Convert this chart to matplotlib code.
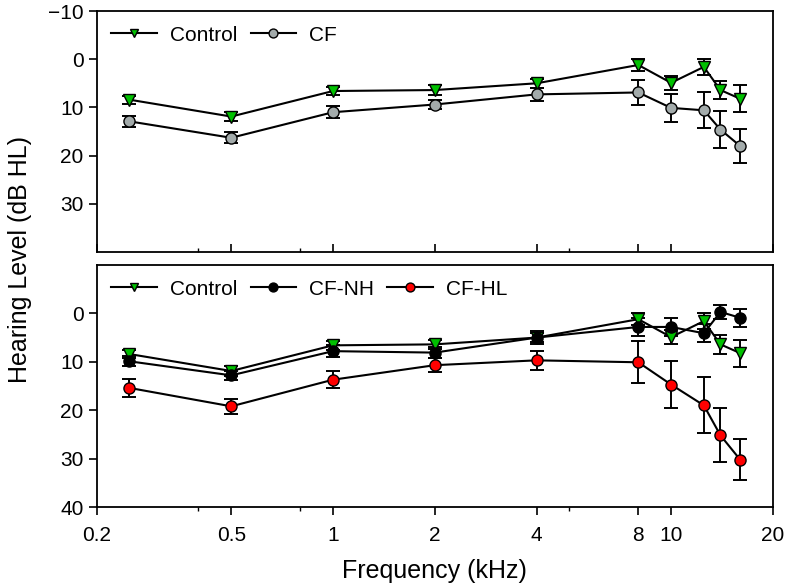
import numpy as np
import matplotlib.pyplot as plt
from matplotlib.ticker import FixedLocator, NullFormatter

plt.rcParams['font.family'] = ['Liberation Sans', 'DejaVu Sans']

# frequencies (kHz)
freqs = [0.25, 0.5, 1, 2, 4, 8, 10, 12.5, 14, 16]

# hearing levels (dB HL) and SE
control = [8.4, 11.9, 6.6, 6.4, 5.0, 1.2, 4.9, 1.6, 6.4, 8.2]
control_err = [0.8, 1.0, 0.9, 1.0, 0.9, 1.2, 1.5, 1.7, 1.9, 2.8]

cf = [12.9, 16.3, 11.0, 9.4, 7.3, 6.9, 10.1, 10.6, 14.6, 18.0]
cf_err = [1.2, 1.1, 1.3, 1.0, 1.4, 2.6, 2.9, 3.7, 3.9, 3.6]

cf_nh = [9.9, 12.8, 7.8, 8.1, 5.0, 2.8, 2.8, 4.1, -0.3, 0.9]
cf_nh_err = [1.0, 1.0, 1.2, 1.2, 1.4, 1.8, 1.8, 1.9, 1.5, 1.9]

cf_hl = [15.4, 19.2, 13.7, 10.7, 9.7, 10.1, 14.7, 19.0, 25.2, 30.2]
cf_hl_err = [1.8, 1.5, 1.8, 1.4, 1.9, 4.3, 4.9, 5.8, 5.6, 4.2]

xticks = [0.2, 0.5, 1, 2, 4, 8, 10, 20]
xticklabels = ['0.2', '0.5', '1', '2', '4', '8', '10', '20']

fig = plt.figure(figsize=(7.87, 5.86), dpi=100)
ax1 = fig.add_axes([0.1229, 0.570, 0.8591, 0.4112])
ax2 = fig.add_axes([0.1229, 0.1348, 0.8591, 0.4130])


def series(ax, y, err, marker, color, label):
    ax.errorbar(freqs, y, yerr=err, fmt='none', ecolor='black', elinewidth=1.4,
                capsize=4.8, capthick=1.4, zorder=2)
    ax.plot(freqs, y, color='black', lw=1.5, marker=marker, ms=8,
            mfc=color, mec='black', mew=1.0, label=label, zorder=3)


series(ax1, control, control_err, 'v', '#00c000', 'Control')
series(ax1, cf, cf_err, 'o', '#a3abab', 'CF')

series(ax2, control, control_err, 'v', '#00c000', 'Control')
series(ax2, cf_nh, cf_nh_err, 'o', 'black', 'CF-NH')
series(ax2, cf_hl, cf_hl_err, 'o', '#ff0000', 'CF-HL')

for ax in (ax1, ax2):
    ax.set_xscale('log')
    ax.set_xlim(0.2, 20)
    ax.set_ylim(40, -10)
    ax.xaxis.set_major_locator(FixedLocator(xticks))
    ax.xaxis.set_minor_locator(FixedLocator([0.4, 0.8, 5]))
    ax.xaxis.set_minor_formatter(NullFormatter())
    ax.tick_params(axis='both', labelsize=15, width=1.2, length=6)
    ax.tick_params(axis='x', which='minor', length=3, width=1)
    for s in ax.spines.values():
        s.set_linewidth(1.3)
    leg = ax.legend(loc='upper left', ncol=3, frameon=False, fontsize=15,
                    handlelength=2.2, handletextpad=0.6, columnspacing=0.65,
                    borderaxespad=0.3, markerscale=0.8)

ax1.set_yticks([-10, 0, 10, 20, 30])
ax1.set_xticklabels([])
ax1.tick_params(axis='x', which='both', direction='in')

ax2.set_yticks([0, 10, 20, 30, 40])
ax2.set_xticklabels(xticklabels)
ax2.tick_params(axis='x', pad=8)
ax2.set_xlabel('Frequency (kHz)', fontsize=18, labelpad=10)

fig.text(0.026, 0.558, 'Hearing Level (dB HL)', rotation=90, fontsize=18,
         ha='center', va='center')

fig.savefig('out.png', dpi=100)
